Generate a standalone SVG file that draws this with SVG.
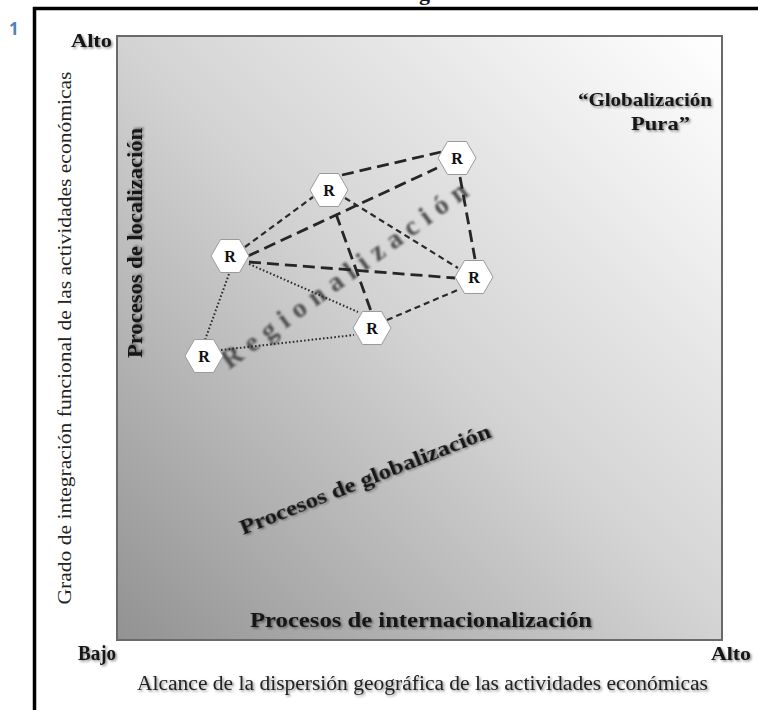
<svg xmlns="http://www.w3.org/2000/svg" width="758" height="710" viewBox="0 0 758 710">
<defs>
<linearGradient id="bg" x1="0" y1="1" x2="1" y2="0">
<stop offset="0" stop-color="#929292"/>
<stop offset="0.5" stop-color="#d3d3d3"/>
<stop offset="1" stop-color="#ffffff"/>
</linearGradient>
<filter id="sh" x="-10%" y="-30%" width="120%" height="160%">
<feDropShadow dx="1.5" dy="1.5" stdDeviation="1.2" flood-color="#000" flood-opacity="0.45"/>
</filter>
<filter id="blur" x="-10%" y="-30%" width="120%" height="160%">
<feGaussianBlur stdDeviation="0.8"/>
</filter>
<polygon id="hex" points="-19,0 -9.5,-16.5 9.5,-16.5 19,0 9.5,16.5 -9.5,16.5"/>
</defs>
<style>
.b{font-family:"Liberation Serif","Times New Roman",serif;font-weight:bold;fill:#151515}
.r{font-family:"Liberation Serif","Times New Roman",serif;fill:#222}
.long{fill:none;stroke:#262626;stroke-width:2.8;stroke-dasharray:12 6}
.med{fill:none;stroke:#2a2a2a;stroke-width:2.2;stroke-dasharray:6 4}
.dot{fill:none;stroke:#2a2a2a;stroke-width:2;stroke-dasharray:1.6 2.2}
.hx{fill:#fff;stroke:#9a9a9a;stroke-width:1}
.rl{font-family:"Liberation Serif","Times New Roman",serif;font-weight:bold;font-size:16px;fill:#111;text-anchor:middle}
</style>
<rect width="758" height="710" fill="#fff"/>
<text class="b" x="419" y="0" font-size="22">g</text>
<g id="frame">
<line x1="33" y1="8.5" x2="758" y2="8.5" stroke="#000" stroke-width="3.5"/>
<line x1="34.5" y1="7" x2="34.5" y2="710" stroke="#000" stroke-width="3.5"/>
</g>
<text x="9" y="35" font-family="Open Sans, Liberation Sans, sans-serif" font-weight="bold" font-size="17" fill="#4f81bd">1</text>
<g id="plot">
<rect x="117" y="36" width="605" height="604" fill="url(#bg)" stroke="#6a6a6a" stroke-width="2"/>
</g>
<g id="labels">
<text class="b" x="71" y="47" font-size="19" textLength="41" lengthAdjust="spacingAndGlyphs" filter="url(#sh)">Alto</text>
<text class="b" x="78" y="660" font-size="20" textLength="38" lengthAdjust="spacingAndGlyphs" filter="url(#sh)">Bajo</text>
<text class="b" x="711" y="660" font-size="19" textLength="40" lengthAdjust="spacingAndGlyphs" filter="url(#sh)">Alto</text>
<text class="r" x="137" y="690" font-size="20" textLength="571" lengthAdjust="spacingAndGlyphs" filter="url(#sh)">Alcance de la dispersión geográfica de las actividades económicas</text>
<text class="r" transform="translate(71,338) rotate(-90)" text-anchor="middle" font-size="19" textLength="533" lengthAdjust="spacingAndGlyphs">Grado de integración funcional de las actividades económicas</text>
<text class="b" x="578" y="106" font-size="19" textLength="134" lengthAdjust="spacingAndGlyphs" filter="url(#sh)">“Globalización</text>
<text class="b" x="631" y="130" font-size="19" textLength="59" lengthAdjust="spacingAndGlyphs" filter="url(#sh)">Pura”</text>
<text class="b" transform="translate(142,243) rotate(-90)" text-anchor="middle" font-size="20" textLength="230" lengthAdjust="spacingAndGlyphs" filter="url(#sh)">Procesos de localización</text>
<text class="b" transform="translate(243,535) rotate(-21.5)" font-size="22" textLength="268" lengthAdjust="spacingAndGlyphs" filter="url(#sh)">Procesos de globalización</text>
<text class="b" x="250" y="627" font-size="21" textLength="342" lengthAdjust="spacingAndGlyphs" filter="url(#sh)">Procesos de internacionalización</text>
<text transform="translate(229,370) rotate(-36)" font-family="Liberation Serif, serif" font-weight="bold" font-size="28" fill="#4e4e4e" textLength="298" lengthAdjust="spacing" filter="url(#blur)">Regionalización</text>
</g>
<g id="connectors">
<line class="long" x1="342" y1="175" x2="441" y2="152"/>
<line class="long" x1="248" y1="256" x2="437" y2="168"/>
<line class="med" x1="245" y1="247" x2="313" y2="197"/>
<line class="long" x1="336" y1="214" x2="371" y2="311"/>
<line class="med" x1="345" y1="198" x2="458" y2="268"/>
<line class="long" x1="249" y1="262" x2="455" y2="278"/>
<line class="dot" x1="249" y1="264" x2="358" y2="312"/>
<line class="dot" x1="229" y1="274" x2="205" y2="340"/>
<line class="dot" x1="221" y1="350" x2="354" y2="335"/>
<line class="med" x1="387" y1="320" x2="460" y2="289"/>
<line class="long" x1="460" y1="177" x2="475" y2="259"/>
</g>
<g id="n1" transform="translate(457,158)"><use href="#hex" class="hx"/><text class="rl" y="5.5">R</text></g>
<g id="n2" transform="translate(329,190)"><use href="#hex" class="hx"/><text class="rl" y="5.5">R</text></g>
<g id="n3" transform="translate(230,256)"><use href="#hex" class="hx"/><text class="rl" y="5.5">R</text></g>
<g id="n4" transform="translate(474,277)"><use href="#hex" class="hx"/><text class="rl" y="5.5">R</text></g>
<g id="n5" transform="translate(372,328)"><use href="#hex" class="hx"/><text class="rl" y="5.5">R</text></g>
<g id="n6" transform="translate(204,356)"><use href="#hex" class="hx"/><text class="rl" y="5.5">R</text></g>
</svg>
